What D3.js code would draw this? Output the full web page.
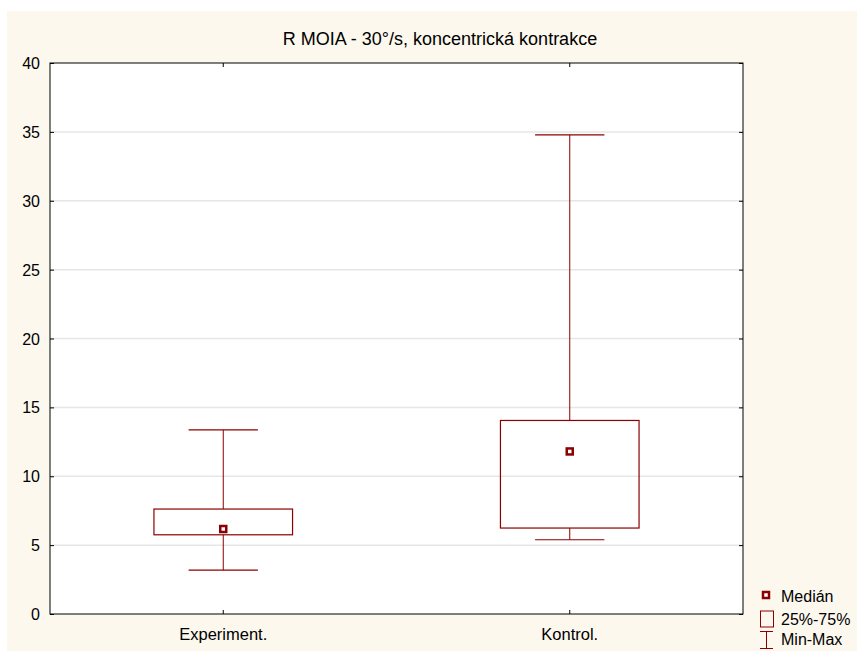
<!DOCTYPE html>
<html>
<head>
<meta charset="utf-8">
<script src="https://cdn.jsdelivr.net/npm/d3@7"></script>
<style>
  html, body { margin: 0; padding: 0; background: #ffffff; }
  svg { display: block; }
  text { font-family: "Liberation Sans", Arial, sans-serif; fill: #000; }
</style>
</head>
<body>
<svg id="chart" width="857" height="652"></svg>
<script>
// Box-plot summary per group
const categories = ["Experiment.", "Kontrol."];
const minValues    = [3.19, 5.39];
const q1Values     = [5.75, 6.24];
const medianValues = [6.17, 11.8];
const q3Values     = [7.62, 14.05];
const maxValues    = [13.37, 34.78];
const yTicks = [0, 5, 10, 15, 20, 25, 30, 35, 40];
const legendLabels = ["Medián", "25%-75%", "Min-Max"];
const title = "R MOIA - 30°/s, koncentrická kontrakce";

const W = 857, H = 652;
const margin = { left: 50, right: 114, top: 63, bottom: 38 };
const color = "#8b0000";

const svg = d3.select("#chart");

// cream outer panel
svg.append("rect").attr("x", 7).attr("y", 11).attr("width", W - 7).attr("height", H - 12)
  .attr("fill", "#fdf8ee");

const x = d3.scaleBand().domain(categories)
  .range([margin.left, W - margin.right]).paddingInner(0).paddingOuter(0);
const y = d3.scaleLinear().domain([0, 40]).range([H - margin.bottom, margin.top]);

const x0 = margin.left, x1 = W - margin.right, y0 = y(0), y1 = y(40);

// plot area
svg.append("rect").attr("x", x0).attr("y", y1).attr("width", x1 - x0).attr("height", y0 - y1)
  .attr("fill", "#ffffff");

// gridlines
svg.append("g").selectAll("line").data(yTicks.filter(t => t > 0 && t < 40)).join("line")
  .attr("x1", x0).attr("x2", x1).attr("y1", d => y(d)).attr("y2", d => y(d))
  .attr("stroke", "#e6e6e6").attr("stroke-width", 1.5);

// axes
const leftAxis = d3.axisLeft(y).tickValues(yTicks).tickSize(-4).tickPadding(10).tickFormat(d3.format("d"));
const gL = svg.append("g").attr("transform", `translate(${x0},0)`).call(leftAxis);
gL.select(".domain").remove();
gL.selectAll("text").style("font-size", "16px").attr("dy", "0.35em");
gL.selectAll("line").attr("stroke", "#000");

const rightAxis = d3.axisRight(y).tickValues(yTicks).tickSize(-4).tickFormat("");
const gR = svg.append("g").attr("transform", `translate(${x1},0)`).call(rightAxis);
gR.select(".domain").remove();
gR.selectAll("line").attr("stroke", "#000");

const bottomAxis = d3.axisBottom(x).tickSize(-4).tickPadding(14);
const gB = svg.append("g").attr("transform", `translate(0,${y0})`).call(bottomAxis);
gB.select(".domain").remove();
gB.selectAll("text").style("font-size", "16.5px");
gB.selectAll("line").attr("stroke", "#000");

const topAxis = d3.axisTop(x).tickSize(-4).tickFormat("");
const gT = svg.append("g").attr("transform", `translate(0,${y1})`).call(topAxis);
gT.select(".domain").remove();
gT.selectAll("line").attr("stroke", "#000");

// frame
svg.append("rect").attr("x", x0).attr("y", y1).attr("width", x1 - x0).attr("height", y0 - y1)
  .attr("fill", "none").attr("stroke", "#000").attr("stroke-width", 1);

// title
svg.append("text").attr("x", 440).attr("y", 45).attr("text-anchor", "middle")
  .style("font-size", "18px").text(title);

// boxes
const bw = x.bandwidth() * 0.4;
const cw = bw / 2;
const g = svg.append("g");
categories.forEach((c, i) => {
  const cx = x(c) + x.bandwidth() / 2;
  // whiskers
  g.append("line").attr("x1", cx).attr("x2", cx).attr("y1", y(maxValues[i])).attr("y2", y(q3Values[i]))
    .attr("stroke", color).attr("stroke-width", 1);
  g.append("line").attr("x1", cx).attr("x2", cx).attr("y1", y(q1Values[i])).attr("y2", y(minValues[i]))
    .attr("stroke", color).attr("stroke-width", 1);
  [maxValues[i], minValues[i]].forEach(v => {
    g.append("line").attr("x1", cx - cw / 2).attr("x2", cx + cw / 2).attr("y1", y(v)).attr("y2", y(v))
      .attr("stroke", color).attr("stroke-width", 1.2);
  });
  // box
  g.append("rect").attr("x", cx - bw / 2).attr("y", y(q3Values[i]))
    .attr("width", bw).attr("height", y(q1Values[i]) - y(q3Values[i]))
    .attr("fill", "none").attr("stroke", color).attr("stroke-width", 1.2);
  // median
  g.append("rect").attr("x", cx - 3).attr("y", y(medianValues[i]) - 3).attr("width", 6).attr("height", 6)
    .attr("fill", "#fff").attr("stroke", color).attr("stroke-width", 2.5);
});

// legend
const lx = 766, ly = 595;
const leg = svg.append("g");
leg.append("rect").attr("x", lx - 3).attr("y", ly - 3).attr("width", 6).attr("height", 6)
  .attr("fill", "#fff").attr("stroke", color).attr("stroke-width", 2.5);
leg.append("rect").attr("x", lx - 5.5).attr("y", 611).attr("width", 13).attr("height", 16)
  .attr("fill", "none").attr("stroke", color).attr("stroke-width", 1);
leg.append("line").attr("x1", lx - 6).attr("x2", lx + 7).attr("y1", 631.5).attr("y2", 631.5).attr("stroke", color);
leg.append("line").attr("x1", lx - 6).attr("x2", lx + 7).attr("y1", 648.5).attr("y2", 648.5).attr("stroke", color);
leg.append("line").attr("x1", lx + 0.5).attr("x2", lx + 0.5).attr("y1", 631.5).attr("y2", 648.5).attr("stroke", color);
[602, 625, 645].forEach((yy, i) => {
  leg.append("text").attr("x", 781).attr("y", yy).style("font-size", "16px").text(legendLabels[i]);
});
</script>
</body>
</html>
